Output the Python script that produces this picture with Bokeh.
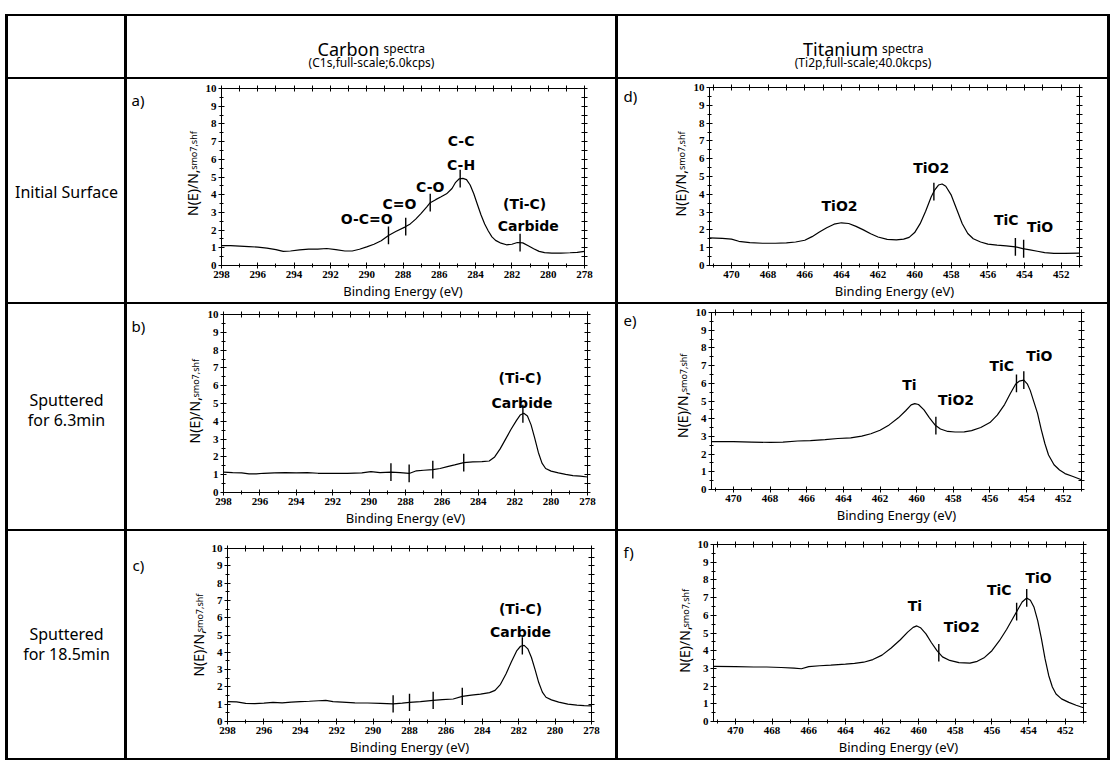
import numpy as np
from bokeh.core.properties import value
from bokeh.embed import file_html
from bokeh.models import (FixedTicker, GridBox, Label, LinearAxis, Range1d, Row,
                          SingleIntervalTicker, Spacer)
from bokeh.plotting import figure
from bokeh.resources import INLINE

# ---------------------------------------------------------------- table text
column_titles = ["Carbon", "Titanium"]
column_title_tail = "spectra"
column_subtitles = ["(C1s,full-scale;6.0kcps)", "(Ti2p,full-scale;40.0kcps)"]
row_titles = [["Initial Surface"], ["Sputtered", "for 6.3min"], ["Sputtered", "for 18.5min"]]
panel_tags = ["a)", "b)", "c)", "d)", "e)", "f)"]
x_title = "Binding Energy (eV)"
y_title_main = "N(E)/N,"
y_title_sub = "smo7,shf"

c1s_range = (298, 278)
ti2p_range = (471.2, 451)

# ---------------------------------------------------------------- C1s spectra
c1s_a_be = [298.0, 297.5, 297.0, 296.5, 296.0, 295.5, 295.0, 294.6, 294.2, 293.7, 293.2, 292.7,
            292.2, 291.7, 291.2, 290.8, 290.4, 290.0, 289.6, 289.2, 288.8, 288.4, 287.9, 287.6,
            287.3, 287.0, 286.7, 286.5, 286.2, 285.9, 285.6, 285.3, 285.1, 284.9, 284.7, 284.5,
            284.3, 284.1, 283.9, 283.7, 283.5, 283.3, 283.1, 282.9, 282.6, 282.3, 282.0, 281.7,
            281.4, 281.1, 280.8, 280.5, 280.2, 279.8, 279.3, 278.8, 278.4, 278.0]
c1s_a_int = [1.12, 1.12, 1.10, 1.07, 1.04, 0.98, 0.90, 0.80, 0.82, 0.88, 0.92, 0.93,
             0.96, 0.90, 0.82, 0.82, 0.92, 1.05, 1.20, 1.40, 1.70, 1.92, 2.17, 2.35,
             2.62, 2.95, 3.30, 3.55, 3.72, 3.88, 4.05, 4.35, 4.70, 4.90, 4.92, 4.85,
             4.55, 4.05, 3.45, 2.85, 2.35, 1.95, 1.62, 1.42, 1.26, 1.17, 1.20, 1.30,
             1.28, 1.12, 0.95, 0.80, 0.73, 0.70, 0.70, 0.72, 0.74, 0.80]
c1s_a_marks = [288.8, 287.85, 286.5, 284.85, 281.55]
c1s_a_names = ["O-C=O", "C=O", "C-O", "C-C", "C-H", "(Ti-C)", "Carbide"]
c1s_a_name_be = [290.0, 288.2, 286.5, 284.8, 284.8, 281.3, 281.1]
c1s_a_name_y = [2.6, 3.45, 4.45, 7.05, 5.7, 3.5, 2.25]

c1s_b_be = [298.0, 297.5, 297.0, 296.6, 296.2, 295.8, 295.2, 294.6, 294.0, 293.4, 292.8, 292.0,
            291.2, 290.4, 289.9, 289.4, 288.8, 288.3, 287.8, 287.4, 287.0, 286.5, 286.1, 285.7,
            285.3, 284.8, 284.3, 283.8, 283.4, 283.1, 282.8, 282.5, 282.2, 281.9, 281.7, 281.5,
            281.3, 281.1, 280.9, 280.7, 280.5, 280.3, 280.0, 279.6, 279.2, 278.8, 278.4, 278.0]
c1s_b_int = [1.15, 1.12, 1.10, 1.05, 1.05, 1.08, 1.10, 1.12, 1.10, 1.12, 1.08, 1.07,
             1.08, 1.10, 1.17, 1.12, 1.15, 1.12, 1.07, 1.22, 1.25, 1.28, 1.35, 1.45,
             1.55, 1.68, 1.72, 1.73, 1.77, 2.00, 2.45, 3.00, 3.55, 4.05, 4.35, 4.45,
             4.30, 3.80, 3.05, 2.25, 1.65, 1.35, 1.20, 1.10, 1.02, 0.95, 0.92, 0.87]
c1s_b_marks = [288.8, 287.8, 286.5, 284.8, 281.55]
c1s_b_names = ["(Ti-C)", "Carbide"]
c1s_b_name_be = [281.7, 281.6]
c1s_b_name_y = [6.45, 5.05]

c1s_c_be = [298.0, 297.5, 297.0, 296.5, 296.0, 295.5, 295.0, 294.5, 294.0, 293.5, 293.0, 292.6,
            292.2, 291.7, 291.0, 290.3, 289.6, 288.9, 288.4, 288.0, 287.4, 286.7, 286.2, 285.6,
            285.1, 284.6, 284.1, 283.6, 283.3, 283.0, 282.7, 282.4, 282.1, 281.9, 281.7, 281.5,
            281.3, 281.1, 280.9, 280.7, 280.5, 280.2, 279.8, 279.3, 278.8, 278.4, 278.0]
c1s_c_int = [1.15, 1.13, 1.05, 1.03, 1.06, 1.10, 1.08, 1.12, 1.15, 1.17, 1.20, 1.22,
             1.15, 1.12, 1.08, 1.07, 1.05, 1.02, 1.06, 1.10, 1.15, 1.22, 1.26, 1.30,
             1.45, 1.52, 1.58, 1.67, 1.80, 2.15, 2.75, 3.45, 4.10, 4.35, 4.40, 4.20,
             3.70, 3.00, 2.25, 1.70, 1.40, 1.25, 1.12, 1.00, 0.95, 0.92, 0.90]
c1s_c_marks = [288.9, 288.0, 286.7, 285.1, 281.8]
c1s_c_names = ["(Ti-C)", "Carbide"]
c1s_c_name_be = [281.9, 281.9]
c1s_c_name_y = [6.5, 5.17]

# ---------------------------------------------------------------- Ti2p spectra
ti_d_be = [471.2, 470.5, 470.0, 469.6, 469.0, 468.3, 467.6, 467.0, 466.5, 466.0, 465.6, 465.2,
           464.8, 464.4, 464.0, 463.6, 463.2, 462.8, 462.4, 462.0, 461.5, 461.0, 460.6, 460.3,
           460.0, 459.7, 459.4, 459.1, 458.9, 458.7, 458.5, 458.3, 458.0, 457.7, 457.4, 457.1,
           456.8, 456.4, 456.0, 455.5, 455.0, 454.5, 454.1, 453.7, 453.3, 452.9, 452.4, 451.8,
           451.0]
ti_d_int = [1.55, 1.52, 1.48, 1.36, 1.28, 1.25, 1.25, 1.27, 1.32, 1.42, 1.62, 1.88,
            2.12, 2.32, 2.40, 2.36, 2.20, 2.00, 1.78, 1.60, 1.47, 1.44, 1.48, 1.58,
            1.85, 2.35, 3.05, 3.85, 4.25, 4.52, 4.58, 4.45, 3.95, 3.15, 2.35, 1.80,
            1.50, 1.32, 1.20, 1.14, 1.10, 1.05, 0.95, 0.88, 0.80, 0.72, 0.68, 0.68,
            0.70]
ti_d_marks = [458.95, 454.5, 454.05]
ti_d_names = ["TiO2", "TiO2", "TiC", "TiO"]
ti_d_name_be = [464.1, 459.1, 455.0, 453.15]
ti_d_name_y = [3.37, 5.45, 2.54, 2.17]

ti_e_be = [471.2, 470.0, 469.0, 468.0, 467.3, 466.5, 465.8, 465.0, 464.3, 463.6, 463.0, 462.5,
           462.0, 461.5, 461.0, 460.6, 460.3, 460.1, 459.9, 459.6, 459.3, 459.0, 458.7, 458.3,
           457.9, 457.4, 457.0, 456.5, 456.0, 455.6, 455.2, 454.9, 454.6, 454.4, 454.15, 453.95,
           453.8, 453.6, 453.4, 453.2, 453.0, 452.8, 452.5, 452.2, 451.9, 451.5, 451.0]
ti_e_int = [2.70, 2.70, 2.68, 2.66, 2.68, 2.74, 2.76, 2.82, 2.88, 2.92, 3.02, 3.15,
            3.35, 3.65, 4.05, 4.45, 4.78, 4.85, 4.80, 4.50, 4.05, 3.65, 3.42, 3.28,
            3.25, 3.26, 3.33, 3.50, 3.78, 4.20, 4.80, 5.40, 5.95, 6.12, 6.18, 5.95,
            5.60, 4.95, 4.30, 3.40, 2.60, 1.95, 1.40, 1.10, 0.90, 0.75, 0.55]
ti_e_marks = [458.95, 454.55, 454.15]
ti_e_names = ["Ti", "TiO2", "TiC", "TiO"]
ti_e_name_be = [460.4, 457.85, 455.35, 453.3]
ti_e_name_y = [5.9, 5.05, 6.99, 7.52]

ti_f_be = [471.2, 470.0, 469.0, 468.3, 467.5, 466.8, 466.4, 466.0, 465.4, 464.8, 464.0, 463.5,
           463.0, 462.5, 462.0, 461.5, 461.0, 460.6, 460.3, 460.1, 459.9, 459.6, 459.3, 459.0,
           458.7, 458.3, 457.8, 457.2, 456.8, 456.4, 456.0, 455.6, 455.2, 454.9, 454.6, 454.35,
           454.1, 453.9, 453.7, 453.5, 453.3, 453.1, 452.9, 452.7, 452.5, 452.2, 451.8, 451.4,
           451.0]
ti_f_int = [3.12, 3.10, 3.08, 3.08, 3.05, 3.02, 2.98, 3.10, 3.15, 3.18, 3.24, 3.28,
            3.35, 3.50, 3.75, 4.15, 4.62, 5.05, 5.32, 5.40, 5.30, 4.95, 4.45, 4.00,
            3.65, 3.45, 3.33, 3.30, 3.40, 3.62, 4.00, 4.55, 5.20, 5.75, 6.30, 6.75,
            6.98, 6.85, 6.45, 5.70, 4.70, 3.55, 2.60, 1.95, 1.55, 1.28, 1.08, 0.92,
            0.78]
ti_f_marks = [458.9, 454.65, 454.1]
ti_f_names = ["Ti", "TiO2", "TiC", "TiO"]
ti_f_name_be = [460.2, 457.65, 455.6, 453.45]
ti_f_name_y = [6.51, 5.34, 7.45, 8.08]

# ---------------------------------------------------------------- layout (px)
col_widths = [116, 488, 489]
row_heights = [61, 223, 225, 227]
TICK_ROOM = 19                   # room kept left of the frame for the y tick labels
MAIN_TITLE_LEN = 55              # room reserved for the 14px y-title part
LINE = "black"
TXT_FONT = "Noto Sans"
TICK_FONT = "Liberation Sans Narrow"
PEAK_FONT = "DejaVu Sans"
WHITE = {"background-color": "white"}


def blank_fig(w, h, y_down=True):
    p = figure(width=w, height=h, x_range=Range1d(0, w),
               y_range=Range1d(h, 0) if y_down else Range1d(0, h),
               x_axis_type=None, y_axis_type=None, toolbar_location=None, tools="",
               output_backend="svg", min_border=0, styles=WHITE)
    p.outline_line_color = None
    p.background_fill_color = "white"
    p.border_fill_color = "white"
    return p


def text_cell(w, h, items):
    """A table cell holding plain text items (text, x, y, size, align, baseline)."""
    p = blank_fig(w, h)
    for txt, x, y, size, align, baseline in items:
        p.text(x=[x], y=[y], text=[txt], text_font=value(TXT_FONT), text_font_size=size,
               text_align=align, text_baseline=baseline, text_color="black")
    return p


def spectrum_cell(w, h, frame, xr, be, inten, marks, names, name_be, name_y, tag, tag_xy):
    left, right, top, bottom = frame
    side_w = left - TICK_ROOM
    p = figure(width=w - side_w, height=h, x_range=Range1d(*xr), y_range=Range1d(0, 10),
               toolbar_location=None, tools="", output_backend="svg", styles=WHITE,
               min_border_left=TICK_ROOM, min_border_right=right,
               min_border_top=top, min_border_bottom=bottom)
    p.background_fill_color = "white"
    p.border_fill_color = "white"
    p.outline_line_color = "black"
    p.outline_line_width = 1
    p.xgrid.visible = False
    p.ygrid.visible = False

    lo, hi = min(xr), max(xr)
    xa = p.xaxis[0]
    ya = p.yaxis[0]
    xa.ticker = SingleIntervalTicker(interval=2, num_minor_ticks=2)
    ya.ticker = SingleIntervalTicker(interval=1, num_minor_ticks=2)
    # mirrored tick marks on the top and right edges (no labels there)
    top_ax = LinearAxis(ticker=FixedTicker(ticks=[], minor_ticks=list(np.arange(np.ceil(lo), hi + 0.01, 1.0))))
    right_ax = LinearAxis(ticker=FixedTicker(ticks=[], minor_ticks=list(np.arange(0, 10.01, 0.5))))
    p.add_layout(top_ax, "above")
    p.add_layout(right_ax, "right")
    for ax in (xa, ya, top_ax, right_ax):
        ax.axis_line_color = "black"
        ax.axis_line_width = 1
        ax.major_tick_in = 3
        ax.major_tick_out = 3
        ax.minor_tick_in = 2
        ax.minor_tick_out = 2
        ax.major_tick_line_color = "black"
        ax.minor_tick_line_color = "black"
        ax.major_label_text_font = TICK_FONT
        ax.major_label_text_font_style = "bold"
        ax.major_label_text_font_size = "11px"
        ax.major_label_text_color = "black"
        ax.major_label_standoff = 2
    for ax in (top_ax, right_ax):
        ax.minor_tick_in = 3
        ax.minor_tick_out = 3

    xa.axis_label = x_title
    xa.axis_label_text_font = TXT_FONT
    xa.axis_label_text_font_style = "normal"
    xa.axis_label_text_font_size = "13px"
    xa.axis_label_text_color = "black"
    xa.axis_label_standoff = 1

    # spectrum trace
    p.line(x=be, y=inten, line_color="black", line_width=1.2)

    # short vertical markers at the component positions, sitting on the trace
    be_arr = np.asarray(be, dtype=float)
    in_arr = np.asarray(inten, dtype=float)
    order = np.argsort(be_arr)
    mx = np.asarray(marks, dtype=float)
    my = np.interp(mx, be_arr[order], in_arr[order])
    p.segment(x0=mx, y0=my - 0.5, x1=mx, y1=my + 0.5, line_color="black", line_width=1.4)

    # component names
    p.text(x=name_be, y=name_y, text=names, text_font=value(PEAK_FONT), text_font_style="bold",
           text_font_size="14px", text_align="center", text_baseline="middle", text_color="black")

    # side strip: panel tag and the rotated y title (y measured upward here)
    s = blank_fig(side_w, h, y_down=False)
    s.text(x=[tag_xy[0]], y=[h - tag_xy[1]], text=[tag], text_font=value(TXT_FONT),
           text_font_size="15px", text_align="left", text_baseline="middle", text_color="black")
    fh = h - top - bottom
    junction = bottom + fh / 2 - 8
    base_x = left - 27            # common baseline of both title parts
    s.add_layout(Label(x=base_x - 12, y=junction - MAIN_TITLE_LEN, text=y_title_main,
                       angle=90, angle_units="deg", text_font=TXT_FONT, text_font_size="14px",
                       text_align="left", text_baseline="top", text_color="black"))
    s.add_layout(Label(x=base_x - 7.5, y=junction + 3, text=y_title_sub,
                       angle=90, angle_units="deg", text_font=TXT_FONT, text_font_size="9px",
                       text_align="left", text_baseline="top", text_color="black"))
    return Row(children=[s, p], spacing=0)


w0, w1, w2 = col_widths
h0, h1, h2, h3 = row_heights

hdr_blank = text_cell(w0, h0, [])
hdr_c = text_cell(w1, h0, [
    (column_titles[0], w1 / 2 + 8, 32, "18px", "right", "alphabetic"),
    (column_title_tail, w1 / 2 + 12, 32, "12px", "left", "alphabetic"),
    (column_subtitles[0], w1 / 2, 46, "12px", "center", "middle"),
])
hdr_t = text_cell(w2, h0, [
    (column_titles[1], w2 / 2 + 15, 32, "18px", "right", "alphabetic"),
    (column_title_tail, w2 / 2 + 19, 32, "12px", "left", "alphabetic"),
    (column_subtitles[1], w2 / 2, 46, "12px", "center", "middle"),
])

lab1 = text_cell(w0, h1, [(row_titles[0][0], w0 / 2, 112, "16px", "center", "middle")])
lab2 = text_cell(w0, h2, [(row_titles[1][0], w0 / 2, 95, "16px", "center", "middle"),
                          (row_titles[1][1], w0 / 2, 115, "16px", "center", "middle")])
lab3 = text_cell(w0, h3, [(row_titles[2][0], w0 / 2, 102, "16px", "center", "middle"),
                          (row_titles[2][1], w0 / 2, 122, "16px", "center", "middle")])

pa = spectrum_cell(w1, h1, (94, 31, 9, 37), c1s_range, c1s_a_be, c1s_a_int, c1s_a_marks,
                   c1s_a_names, c1s_a_name_be, c1s_a_name_y, panel_tags[0], (4, 14))
pb = spectrum_cell(w1, h2, (96, 28, 10, 35), c1s_range, c1s_b_be, c1s_b_int, c1s_b_marks,
                   c1s_b_names, c1s_b_name_be, c1s_b_name_y, panel_tags[1], (4, 14))
pc = spectrum_cell(w1, h3, (100, 24, 17, 34), c1s_range, c1s_c_be, c1s_c_int, c1s_c_marks,
                   c1s_c_names, c1s_c_name_be, c1s_c_name_y, panel_tags[2], (5, 21))
pd = spectrum_cell(w2, h1, (91, 28, 8, 34), ti2p_range, ti_d_be, ti_d_int, ti_d_marks,
                   ti_d_names, ti_d_name_be, ti_d_name_y, panel_tags[3], (5, 11))
pe = spectrum_cell(w2, h2, (93, 26, 8, 40), ti2p_range, ti_e_be, ti_e_int, ti_e_marks,
                   ti_e_names, ti_e_name_be, ti_e_name_y, panel_tags[4], (5, 10))
pf = spectrum_cell(w2, h3, (95, 24, 13, 37), ti2p_range, ti_f_be, ti_f_int, ti_f_marks,
                   ti_f_names, ti_f_name_be, ti_f_name_y, panel_tags[5], (5, 9))

# table: zero-size corner spacers make the grid gaps show as the outer frame lines
children = [
    (Spacer(width=0, height=0), 0, 0),
    (hdr_blank, 1, 1), (hdr_c, 1, 2), (hdr_t, 1, 3),
    (lab1, 2, 1), (pa, 2, 2), (pd, 2, 3),
    (lab2, 3, 1), (pb, 3, 2), (pe, 3, 3),
    (lab3, 4, 1), (pc, 4, 2), (pf, 4, 3),
    (Spacer(width=0, height=0), 5, 4),
]
table = GridBox(children=children, spacing=(2, 3), margin=(14, 0, 0, 5),
                styles={"background-color": LINE})

open("out.html", "w").write(file_html(table, INLINE))
